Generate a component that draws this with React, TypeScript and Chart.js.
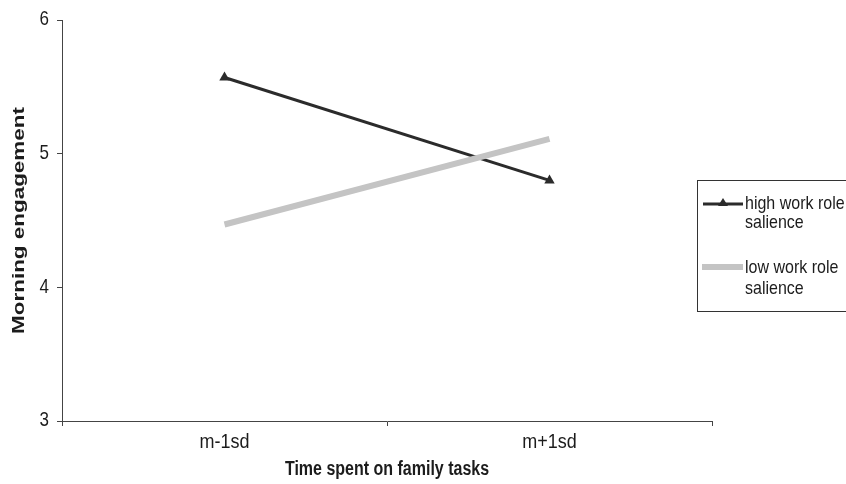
import React, { useEffect, useRef } from "react";
import { Chart, registerables } from "chart.js";

Chart.register(...registerables);

const categories = ["m-1sd", "m+1sd"];
const highSalience = [5.57, 4.8];
const lowSalience = [4.47, 5.11];
const yTicks = [3, 4, 5, 6];
const seriesLabels = [["high work role", "salience"], ["low work role", "salience"]];
const xTitle = "Time spent on family tasks";
const yTitle = "Morning engagement";

const FONT = "'Liberation Sans', Arial, sans-serif";
const STRETCH = 1.15;
const DARK = "#2b2b2b";
const GRAY = "#c4c4c4";
const TEXT = "#1c1c1c";

function stretchedText(ctx: CanvasRenderingContext2D, text: string, x: number, y: number, font: string, align: CanvasTextAlign, sy = STRETCH) {
  ctx.save();
  ctx.translate(x, y);
  ctx.scale(1, sy);
  ctx.font = font;
  ctx.fillStyle = TEXT;
  ctx.textAlign = align;
  ctx.textBaseline = "middle";
  ctx.fillText(text, 0, 0);
  ctx.restore();
}

const textPlugin = {
  id: "customText",
  afterDraw(chart: any) {
    const ctx: CanvasRenderingContext2D = chart.ctx;
    const xs = chart.scales.x;
    const ys = chart.scales.y;
    const area = chart.chartArea;
    yTicks.forEach((v) => {
      stretchedText(ctx, String(v), 49, ys.getPixelForValue(v), "17px " + FONT, "right");
    });
    categories.forEach((c, i) => {
      stretchedText(ctx, c, xs.getPixelForValue(i), 442, "18px " + FONT, "center");
    });
    stretchedText(ctx, xTitle, (area.left + area.right) / 2, 469, "bold 16px " + FONT, "center", 1.25);
    ctx.save();
    ctx.translate(19, (area.top + area.bottom) / 2);
    ctx.rotate(-Math.PI / 2);
    ctx.scale(1.32, 1);
    ctx.font = "bold 17px " + FONT;
    ctx.fillStyle = TEXT;
    ctx.textAlign = "center";
    ctx.textBaseline = "middle";
    ctx.fillText(yTitle, 0, 0);
    ctx.restore();

    ctx.save();
    ctx.strokeStyle = "#333";
    ctx.lineWidth = 1;
    ctx.strokeRect(697.5, 180.5, 160, 131);
    ctx.strokeStyle = DARK;
    ctx.lineWidth = 3;
    ctx.beginPath();
    ctx.moveTo(703, 204);
    ctx.lineTo(743, 204);
    ctx.stroke();
    ctx.fillStyle = DARK;
    ctx.beginPath();
    ctx.moveTo(723, 198);
    ctx.lineTo(728, 206);
    ctx.lineTo(718, 206);
    ctx.closePath();
    ctx.fill();
    ctx.strokeStyle = GRAY;
    ctx.lineWidth = 6;
    ctx.beginPath();
    ctx.moveTo(702, 267);
    ctx.lineTo(743, 267);
    ctx.stroke();
    ctx.restore();
    stretchedText(ctx, seriesLabels[0][0], 745, 204, "16px " + FONT, "left", 1.2);
    stretchedText(ctx, seriesLabels[0][1], 745, 223, "16px " + FONT, "left", 1.2);
    stretchedText(ctx, seriesLabels[1][0], 745, 268, "16px " + FONT, "left", 1.2);
    stretchedText(ctx, seriesLabels[1][1], 745, 289, "16px " + FONT, "left", 1.2);
  },
};

export default function App() {
  const ref = useRef<HTMLCanvasElement>(null);
  useEffect(() => {
    const canvas = ref.current!;
    const chart = new Chart(canvas, {
      type: "line",
      data: {
        labels: categories,
        datasets: [
          {
            label: seriesLabels[0].join(" "),
            data: highSalience,
            borderColor: DARK,
            backgroundColor: DARK,
            borderWidth: 3,
            pointStyle: "triangle",
            pointRadius: 6,
            pointBorderWidth: 0,
            pointBackgroundColor: DARK,
            tension: 0,
            order: 1,
          },
          {
            label: seriesLabels[1].join(" "),
            data: lowSalience,
            borderColor: GRAY,
            backgroundColor: GRAY,
            borderWidth: 6,
            pointRadius: 0,
            tension: 0,
            order: 0,
          },
        ],
      },
      options: {
        responsive: false,
        animation: false,
        layout: { padding: { top: 20, right: 134, left: 0, bottom: 0 } },
        plugins: { legend: { display: false }, tooltip: { enabled: false } },
        scales: {
          x: {
            type: "category",
            offset: true,
            grid: { offset: true, drawOnChartArea: false, tickLength: 5, color: "#444" },
            border: { color: "#444", width: 1 },
            ticks: { color: "rgba(0,0,0,0)", font: { size: 16 } },
            afterFit: (s: any) => { s.height = 63; },
          },
          y: {
            min: 3,
            max: 6,
            ticks: { stepSize: 1, color: "rgba(0,0,0,0)", font: { size: 16 } },
            grid: { drawOnChartArea: false, tickLength: 5, color: "#444" },
            border: { color: "#444", width: 1 },
            afterFit: (s: any) => { s.width = 62; },
          },
        },
      },
      plugins: [textPlugin],
    });
    return () => chart.destroy();
  }, []);
  return (
    <div style={{ position: "absolute", left: 0, top: 0, width: 846, height: 484, background: "#fff" }}>
      <canvas ref={ref} width={846} height={484} style={{ width: 846, height: 484 }} />
    </div>
  );
}
